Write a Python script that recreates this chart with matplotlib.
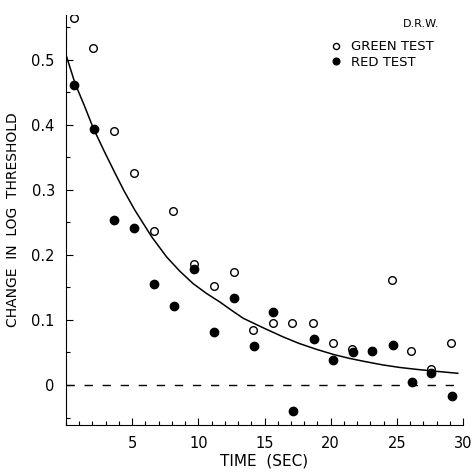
import numpy as np
import matplotlib
matplotlib.use('Agg')
import matplotlib.pyplot as plt
from matplotlib.ticker import MultipleLocator

# green test (open circles)
green_t = [0.6, 2.06, 3.62, 5.13, 6.64, 8.1, 9.68, 11.17, 12.68, 14.14,
           15.65, 17.1, 18.67, 20.2, 21.6, 23.1, 24.6, 26.1, 27.6, 29.1]
green_y = [0.564, 0.518, 0.390, 0.326, 0.237, 0.268, 0.186, 0.152, 0.173, 0.084,
           0.096, 0.096, 0.095, 0.064, 0.056, 0.053, 0.162, 0.053, 0.024, 0.064]

# red test (filled circles)
red_t = [0.6, 2.11, 3.62, 5.16, 6.64, 8.15, 9.68, 11.17, 12.68, 14.19,
         15.65, 17.15, 18.72, 20.17, 21.68, 23.15, 24.7, 26.17, 27.6, 29.18]
red_y = [0.462, 0.394, 0.253, 0.242, 0.155, 0.122, 0.178, 0.082, 0.134, 0.060,
         0.112, -0.040, 0.070, 0.039, 0.051, 0.052, 0.061, 0.005, 0.019, -0.017]

# fitted curve
curve_t = [0.0, 0.68, 1.4, 2.06, 2.9, 3.7, 4.4, 5.2, 6.47, 7.6, 8.6, 9.6,
           10.6, 11.6, 12.5, 13.4, 15.0, 16.4, 17.6, 18.9, 20.2, 21.4,
           22.6, 23.9, 25.2, 26.5, 28.0, 29.6]
curve_y = [0.508, 0.464, 0.429, 0.395, 0.359, 0.326, 0.298, 0.269, 0.228,
           0.197, 0.175, 0.156, 0.141, 0.128, 0.115, 0.1025, 0.087, 0.074,
           0.064, 0.055, 0.047, 0.041, 0.036, 0.031, 0.027, 0.024, 0.021, 0.018]

fig = plt.figure(figsize=(4.73, 4.74), dpi=100)
ax = fig.add_axes([0.1395, 0.1034, 0.8395, 0.8650])

ax.plot(curve_t, curve_y, '-', color='black', lw=1.1)
ax.axhline(0, color='black', lw=1.0, ls=(0, (6, 7)))
ax.plot(green_t, green_y, 'o', mfc='white', mec='black', mew=1.0, ms=5.5,
        ls='none', label='GREEN TEST')
ax.plot(red_t, red_y, 'o', color='black', ms=6, ls='none', label='RED TEST')

ax.set_xlim(0, 30)
ax.set_ylim(-0.0615, 0.569)
ax.spines['top'].set_visible(False)
ax.spines['right'].set_visible(False)

ax.xaxis.set_major_locator(MultipleLocator(5))
ax.xaxis.set_minor_locator(MultipleLocator(1))
ax.yaxis.set_major_locator(MultipleLocator(0.1))
ax.yaxis.set_minor_locator(MultipleLocator(0.05))
ax.tick_params(which='both', direction='in', width=0.8)
ax.tick_params(which='major', length=5, labelsize=10.5, pad=8)
ax.tick_params(which='minor', length=3)
ax.set_xticks([5, 10, 15, 20, 25, 30])
ax.set_xticklabels(['5', '10', '15', '20', '25', '30'])
ax.set_yticks([0, 0.1, 0.2, 0.3, 0.4, 0.5])
ax.set_yticklabels(['0', '0.1', '0.2', '0.3', '0.4', '0.5'])

ax.set_xlabel('TIME  (SEC)', fontsize=11, labelpad=2)
ax.set_ylabel('CHANGE  IN  LOG  THRESHOLD', fontsize=10, labelpad=8)

fig.text(0.891, 0.949, 'D.R.W.', fontsize=8, ha='center', va='center')
ax.legend(loc='upper left', bbox_to_anchor=(0.70, 0.915),
          bbox_transform=fig.transFigure, frameon=False, fontsize=9.5,
          handlelength=0.8, handletextpad=0.7, labelspacing=0.2,
          borderpad=0, borderaxespad=0, markerscale=0.8)

fig.savefig('out.png', dpi=100)
